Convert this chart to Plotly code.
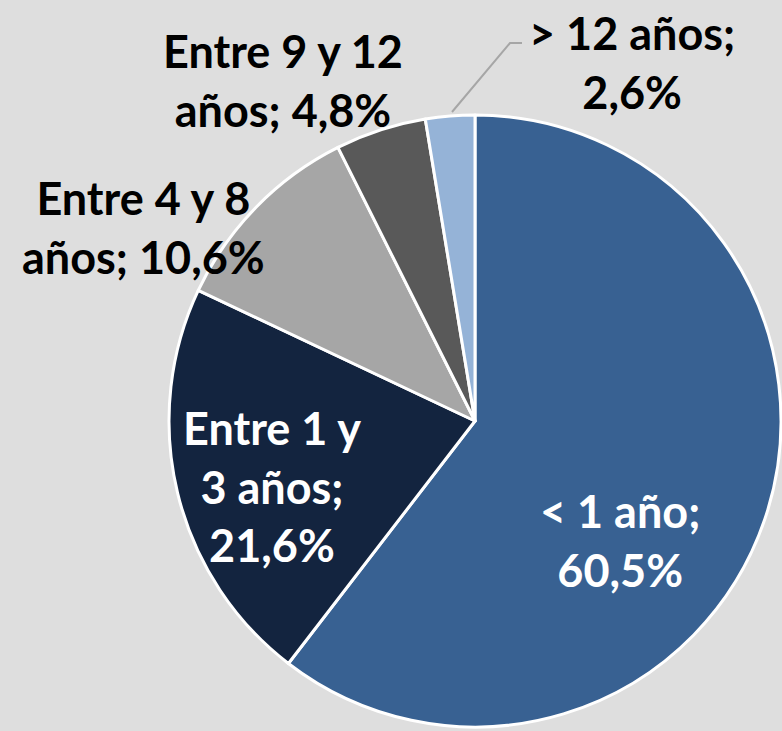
import plotly.graph_objects as go

# antigüedad: share of each group
labels = ["< 1 año", "Entre 1 y 3 años", "Entre 4 y 8 años", "Entre 9 y 12 años", "> 12 años"]
values = [60.5, 21.6, 10.6, 4.8, 2.6]
colors = ["#386192", "#13243f", "#a6a6a6", "#595959", "#95b3d7"]

# how each label is broken into lines, as in the original slide
label_lines = [
    ["< 1 año;", "{v}"],
    ["Entre 1 y", "3 años;", "{v}"],
    ["Entre 4 y 8", "años; {v}"],
    ["Entre 9 y 12", "años; {v}"],
    ["> 12 años;", "{v}"],
]
label_pos = [(620, 540), (272, 487), (143, 228), (283, 80), (632, 62)]  # px centres
label_color = ["white", "white", "black", "black", "black"]

W, H = 782, 731
cx, cy, r = 475, 421, 306


def fmt(v):
    return f"{v:.1f}".replace(".", ",") + "%"


fig = go.Figure(go.Pie(
    labels=labels,
    values=values,
    sort=False,
    direction="clockwise",
    rotation=0,
    marker=dict(colors=colors, line=dict(color="white", width=3)),
    textinfo="none",
    hoverinfo="label+percent",
    showlegend=False,
    domain=dict(x=[(cx - r) / W, (cx + r) / W], y=[(H - cy - r) / H, (H - cy + r) / H]),
))

for lines, v, (px, py), c in zip(label_lines, values, label_pos, label_color):
    txt = "<br>".join(s.format(v=fmt(v)) for s in lines)
    fig.add_annotation(
        x=px / W, y=1 - py / H, xref="paper", yref="paper",
        text=txt, showarrow=False, xanchor="center", yanchor="middle",
        font=dict(family="Lato", size=45, color=c, weight="bold"),
    )

# leader line for the smallest slice
fig.add_shape(
    type="path", xref="paper", yref="paper",
    path=f"M {452 / W} {1 - 112 / H} L {510 / W} {1 - 43 / H} L {522 / W} {1 - 43 / H}",
    line=dict(color="#a6a6a6", width=2),
)

fig.update_layout(
    width=W, height=H,
    margin=dict(l=0, r=0, t=0, b=0),
    paper_bgcolor="#dedede",
    plot_bgcolor="#dedede",
)

# drop the browser's default page margin so the figure fills the window
fig.write_html(
    "out.html",
    config={"displayModeBar": False},
    post_script="document.body.style.margin='0';document.body.style.overflow='hidden';",
)
